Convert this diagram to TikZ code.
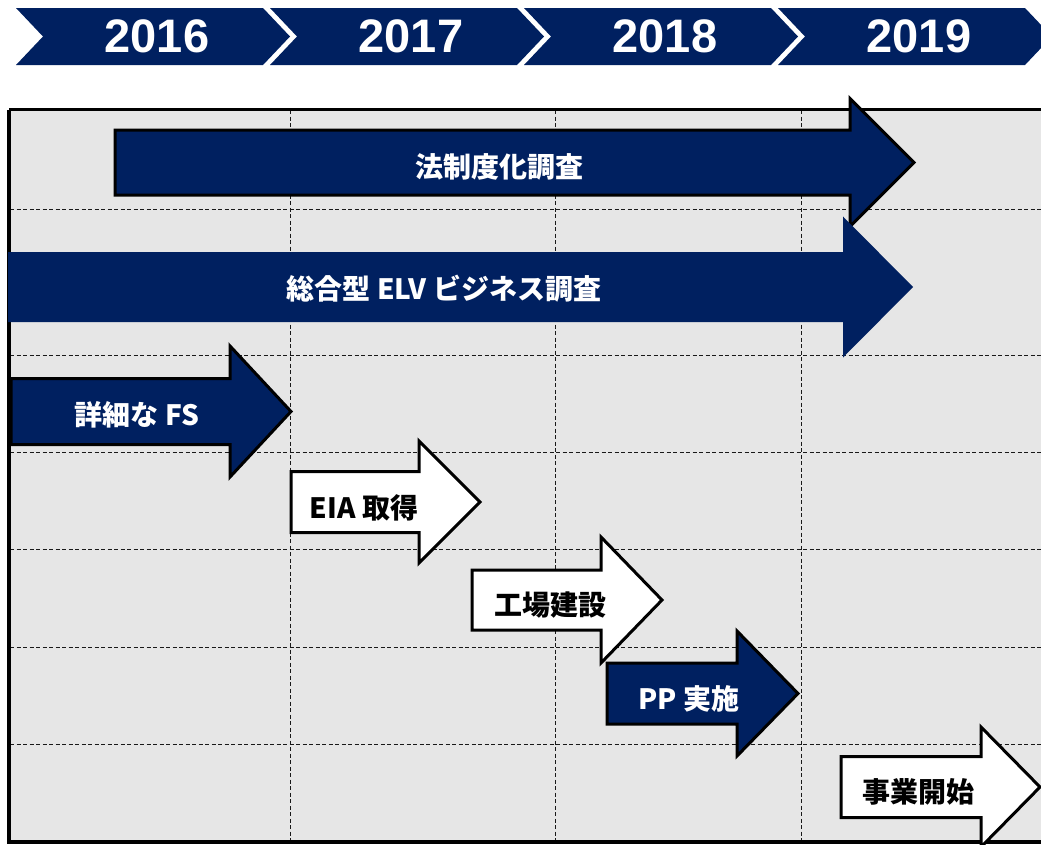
\documentclass[tikz,border=0pt]{standalone}
\usepackage{fontspec}
\newfontfamily\jpfont{Noto Sans CJK JP}
\newfontfamily\yrfont{Liberation Sans}
\definecolor{navy}{RGB}{0,32,96}
\definecolor{panel}{RGB}{230,230,230}
\tikzset{
  yearbox/.style={fill=navy,draw=none},
  yeartext/.style={text=white,font=\yrfont\bfseries\fontsize{47}{50}\selectfont},
  gridline/.style={draw=black!90,line width=0.9pt,dash pattern=on 4pt off 2.5pt},
  framebox/.style={draw=black,line width=3.5pt},
  darkarrow/.style={fill=navy,draw=black,line width=3pt,miter limit=10},
  darkflat/.style={fill=navy,draw=none},
  lightarrow/.style={fill=white,draw=black,line width=3pt,miter limit=10},
  darklabel/.style={text=white,font=\jpfont\bfseries\fontsize{28}{30}\selectfont,inner sep=0pt},
  lightlabel/.style={text=black,font=\jpfont\bfseries\fontsize{28}{30}\selectfont,inner sep=0pt}
}
% block arrow: #1 style, #2 shaft start x, #3 head start x, #4 tip x, #5 centre y, #6 shaft half height, #7 head half height
\newcommand\blockarrow[7]{%
  \path[#1] (#2,#5-#6) -- (#3,#5-#6) -- (#3,#5-#7) -- (#4,#5) -- (#3,#5+#7) -- (#3,#5+#6) -- (#2,#5+#6) -- cycle;}
% chevron: #1 left x, #2 name, #3 year
\newcommand\yearchevron[3]{%
  \path[yearbox] (#1,8) -- (#1+247,8) -- (#1+274,36.5) -- (#1+247,65) -- (#1,65) -- (#1+27,36.5) -- cycle;
  \node[yeartext] (#2) at (#1+141,36.5) {#3};}
\begin{document}
\begin{tikzpicture}[x=1pt,y=-1pt]
\useasboundingbox (0,0) rectangle (1041,844);
% year chevrons
\yearchevron{16}{y2016}{2016}
\yearchevron{270}{y2017}{2017}
\yearchevron{524}{y2018}{2018}
\yearchevron{778}{y2019}{2019}
% panel
\fill[panel] (9,109.5) rectangle (1045,842);
% grid
\foreach \gx in {290,555,801}{\draw[gridline] (\gx,110) -- (\gx,841);}
\foreach \gy in {209,355,452,549,647,744}{\draw[gridline] (10,\gy) -- (1041,\gy);}
% frame
\draw[framebox] (9,109.5) -- (1050,109.5);
\draw[framebox] (9,109.5) -- (9,842) -- (1050,842);
% arrows
\blockarrow{darkarrow}{115}{850}{914}{162.5}{32.5}{64}
\blockarrow{darkflat}{8}{843}{913}{287}{35}{70.5}
\blockarrow{darkarrow}{11}{230}{291}{411.5}{33}{65.5}
\blockarrow{lightarrow}{291}{419}{480}{502}{30.5}{61}
\blockarrow{lightarrow}{472}{601}{662}{600}{30}{63}
\blockarrow{darkarrow}{607}{737}{798}{693.5}{30.5}{62.5}
\blockarrow{lightarrow}{841}{981}{1040}{787}{30.5}{60}
% labels
\node[darklabel] (law) at (499,167) {法制度化調査};
\node[darklabel] (elv) at (444,289) {総合型 ELV ビジネス調査};
\node[darklabel] (fs) at (137,415) {詳細な FS};
\node[lightlabel] (eia) at (364,508) {EIA 取得};
\node[lightlabel] (plant) at (550,605) {工場建設};
\node[darklabel] (pp) at (689,699) {PP 実施};
\node[lightlabel] (start) at (918,792) {事業開始};
\end{tikzpicture}
\end{document}
